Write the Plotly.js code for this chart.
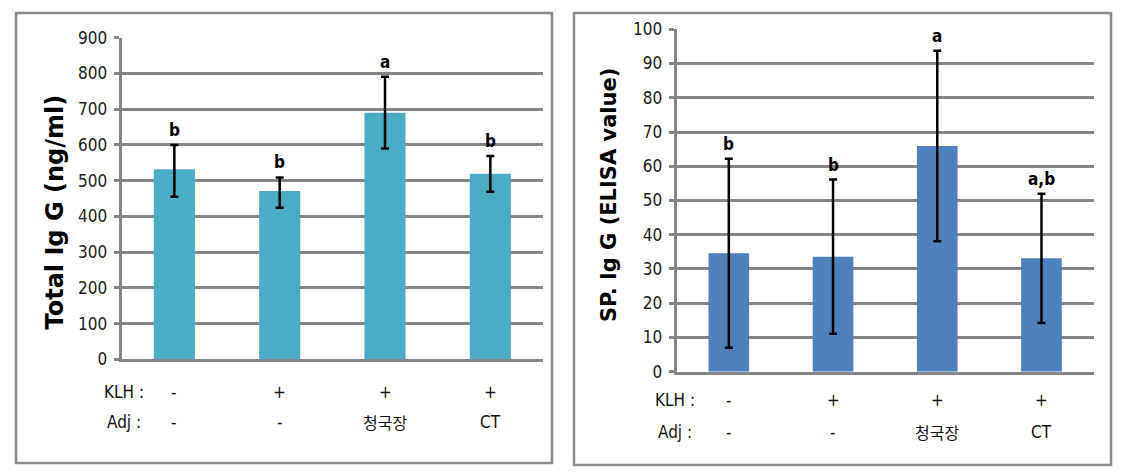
<!DOCTYPE html>
<html>
<head>
<meta charset="utf-8">
<script src="https://cdn.plot.ly/plotly-3.0.1.min.js"></script>
<style>html,body{margin:0;padding:0;background:#fff;}#chart{width:1126px;height:473px;}</style>
</head>
<body>
<div id="chart"></div>
<script>
// ---- data ----
const categories = ['G1', 'G2', 'G3', 'G4'];
const klhRow = ['-', '+', '+', '+'];
const adjRow = ['-', '-', '청국장', 'CT'];

const totalIgG = [532, 471, 690, 519];
const totalIgGErrPlus = [68, 38, 101, 50];
const totalIgGErrMinus = [77, 47, 100, 50];
const totalLetters = ['b', 'b', 'a', 'b'];

const spIgG = [34.6, 33.6, 65.9, 33.1];
const spIgGErr = [27.6, 22.5, 27.8, 18.9];
const spLetters = ['b', 'b', 'a', 'a,b'];

const leftTicks = [0, 100, 200, 300, 400, 500, 600, 700, 800, 900];
const rightTicks = [0, 10, 20, 30, 40, 50, 60, 70, 80, 90, 100];

// ---- layout helpers ----
const W = 1126, H = 473;
const px = v => v / W;
const py = v => 1 - v / H;
const GRID = '#858585';
const NARROW = '"Liberation Sans Narrow", "DejaVu Sans Condensed", Arial, sans-serif';
const BOLDT = '"DejaVu Sans", Arial, sans-serif';
const CJK = '"Noto Sans CJK KR", sans-serif';

const traces = [
  {
    type: 'bar', x: categories, y: totalIgG, xaxis: 'x', yaxis: 'y',
    marker: {color: '#4BACC6'}, width: 0.39,
    error_y: {type: 'data', array: totalIgGErrPlus, arrayminus: totalIgGErrMinus, symmetric: false,
              color: '#000', thickness: 2.5, width: 4},
    hoverinfo: 'skip'
  },
  {
    type: 'bar', x: categories, y: spIgG, xaxis: 'x2', yaxis: 'y2',
    marker: {color: '#4F81BD'}, width: 0.39,
    error_y: {type: 'data', array: spIgGErr, color: '#000', thickness: 2.5, width: 4},
    hoverinfo: 'skip'
  }
];

const annotations = [];
function addLetters(letters, vals, errs, xr, yr) {
  letters.forEach((t, i) => annotations.push({
    xref: xr, yref: yr, x: categories[i], y: vals[i] + errs[i], text: t,
    showarrow: false, xanchor: 'center', yanchor: 'bottom', yshift: 3,
    font: {family: NARROW, size: 17, color: '#000', weight: 'bold'}
  }));
}
addLetters(totalLetters, totalIgG, totalIgGErrPlus, 'x', 'y');
addLetters(spLetters, spIgG, spIgGErr, 'x2', 'y2');

function addRows(xr, labelX, yK, yA) {
  const f = {family: NARROW, size: 17, color: '#111'};
  const base = {showarrow: false, xanchor: 'center', yanchor: 'middle'};
  annotations.push(Object.assign({xref: 'paper', yref: 'paper', x: labelX, y: yK, text: 'KLH :', font: f}, base));
  annotations.push(Object.assign({xref: 'paper', yref: 'paper', x: labelX, y: yA, text: 'Adj :', font: f}, base));
  categories.forEach((c, i) => {
    annotations.push(Object.assign({xref: xr, yref: 'paper', x: c, y: yK, text: klhRow[i], font: f}, base));
    const isKo = /[가-힣]/.test(adjRow[i]);
    annotations.push(Object.assign({xref: xr, yref: 'paper', x: c, y: yA, text: adjRow[i],
      font: Object.assign({}, f, {family: isKo ? CJK : NARROW, size: isKo ? 16 : 17})}, base));
  });
}
addRows('x', px(123.5), py(391.7), py(421.7));
addRows('x2', px(674.5), py(400), py(431.7));

annotations.push({xref: 'paper', yref: 'paper', x: px(54), y: py(212.5), text: 'Total Ig G (ng/ml)',
  textangle: -90, showarrow: false, xanchor: 'center', yanchor: 'middle',
  font: {family: BOLDT, size: 24, color: '#000', weight: 'bold'}});
annotations.push({xref: 'paper', yref: 'paper', x: px(609), y: py(195), text: 'SP. Ig G (ELISA value)',
  textangle: -90, showarrow: false, xanchor: 'center', yanchor: 'middle',
  font: {family: BOLDT, size: 21, color: '#000', weight: 'bold'}});

const yCommon = {
  showgrid: true, gridcolor: GRID, gridwidth: 3, zeroline: false,
  showline: true, linecolor: GRID, linewidth: 3,
  ticks: 'outside', ticklen: 5, tickwidth: 3, tickcolor: GRID,
  tickfont: {family: NARROW, size: 17, color: '#1a1a1a'}, ticklabelstandoff: 3,
  fixedrange: true
};
const xCommon = {
  showgrid: false, zeroline: false, showline: true, linecolor: GRID, linewidth: 3,
  showticklabels: false, ticks: '', fixedrange: true
};

const layout = {
  width: W, height: H,
  margin: {l: 0, r: 0, t: 0, b: 0},
  paper_bgcolor: '#fff', plot_bgcolor: 'rgba(0,0,0,0)',
  showlegend: false,
  xaxis: Object.assign({}, xCommon, {domain: [px(121.7), px(543)], anchor: 'y'}),
  yaxis: Object.assign({}, yCommon, {domain: [py(359.3), py(37.7)], range: [0, 900], tickvals: leftTicks, anchor: 'x'}),
  xaxis2: Object.assign({}, xCommon, {domain: [px(676.7), px(1093.6)], anchor: 'y2'}),
  yaxis2: Object.assign({}, yCommon, {domain: [py(371.7), py(29.3)], range: [0, 100], tickvals: rightTicks, anchor: 'x2'}),
  annotations: annotations,
  shapes: [
    {type: 'rect', xref: 'paper', yref: 'paper', x0: px(16), x1: px(552), y0: py(463), y1: py(13),
     line: {color: '#8a8a8a', width: 2.5}},
    {type: 'rect', xref: 'paper', yref: 'paper', x0: px(574), x1: px(1111), y0: py(465), y1: py(13),
     line: {color: '#8a8a8a', width: 2.5}}
  ]
};

Plotly.newPlot('chart', traces, layout, {staticPlot: true, displayModeBar: false});
</script>
</body>
</html>
